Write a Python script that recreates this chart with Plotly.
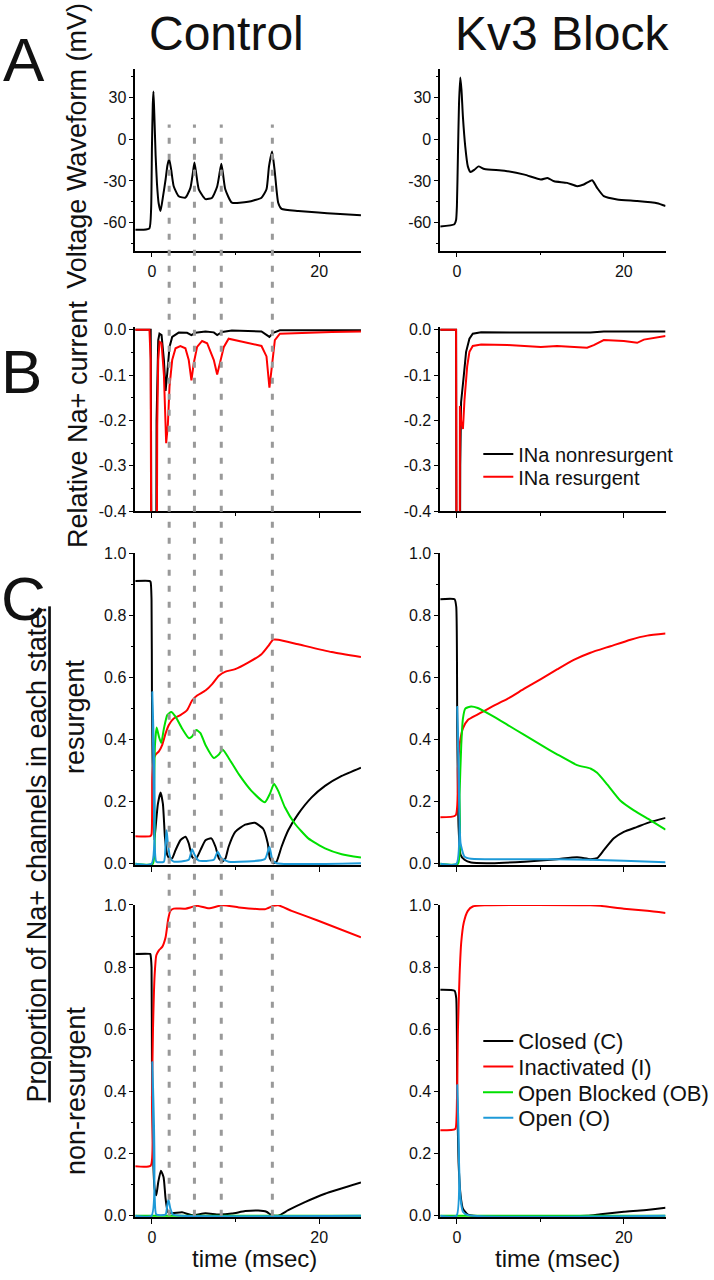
import plotly.graph_objects as go

# ---------------- DATA ----------------
# Panel A: voltage waveform (mV) vs time (msec)
ctl_v_t = [-2, -1.0, -0.3, -0.1, 0.0, 0.1, 0.18, 0.28, 0.44, 0.6, 0.8, 1.03, 1.3, 1.63, 1.85, 2.06, 2.3, 2.6, 3.2,
           4.0, 4.6, 4.9, 5.08, 5.3, 5.6, 6.4, 7.2, 7.8, 8.1, 8.3, 8.5, 8.77, 9.56, 11.5, 13.1, 13.7, 14.0, 14.37,
           14.7, 15.1, 15.5, 17.5, 19.9, 22, 25]
ctl_v = [-65, -65, -64, -50, -5, 25, 34, 18, -12, -32, -46, -51.5, -42, -29, -19, -14.4, -22, -33.8, -41,
         -42, -35, -24, -16.8, -25, -36, -43, -42, -34, -24, -17.7, -25, -36, -45.6, -45, -42, -36, -19.6, -9,
         -24, -45.6, -50, -51.5, -52.7, -53.5, -54.6]

kv3_v_t = [-2, -0.3, -0.1, 0, 0.12, 0.25, 0.4, 0.55, 0.72, 1.0, 1.31, 1.63, 2.1, 2.58, 3.3, 5.7, 8.1, 10.06, 10.85,
           11.65, 13.2, 14.4, 15.2, 16.2, 16.8, 17.6, 19.2, 21.6, 24, 25]
kv3_v = [-62.6, -61, -58, -48, -12.5, 25, 44, 35, 15.8, -5.4, -19.6, -23.6, -22, -19.6, -21.5, -22.7, -25.5, -29,
         -27.9, -30.3, -31.4, -33.8, -32.6, -29.5, -35, -40.9, -43.3, -44.4, -46, -48]

# Panel B: relative Na+ current
ctl_nonres_t = [-2, -0.15, -0.06, 0.0, 0.45, 0.55, 0.75, 0.9, 1.15, 1.43, 1.63, 1.83, 2.1, 2.42, 3.2, 4.2, 4.72,
                5.2, 6.4, 7.4, 7.8, 8.4, 9.56, 13.1, 14.05, 14.5, 15.3, 25]
ctl_nonres = [0, 0, -0.5, -1.0, -1.0, -0.2, -0.023, -0.009, -0.012, -0.067, -0.135, -0.096, -0.038, -0.016, -0.0065,
              -0.007, -0.012, -0.007, -0.004, -0.006, -0.012, -0.005, -0.002, -0.004, -0.016, -0.007, -0.0015, -0.0015]
ctl_res_t = [-2, -0.3, -0.16, -0.08, 0.0, 0.5, 0.56, 0.63, 0.75, 0.91, 1.15, 1.43, 1.7, 1.9, 2.1, 2.42, 2.82, 3.4,
             4.0, 4.4, 4.72, 5.0, 5.4, 6.0, 6.6, 7.4, 7.8, 8.2, 8.6, 9.17, 9.96, 11.5, 13.1, 13.7, 14.05, 14.3,
             14.7, 15.3, 17.5, 21.5, 25]
ctl_res = [0, 0, -0.067, -0.5, -1.0, -1.0, -0.5, -0.21, -0.067, -0.027, -0.03, -0.10, -0.25, -0.21, -0.125, -0.067,
           -0.041, -0.036, -0.041, -0.067, -0.112, -0.074, -0.038, -0.025, -0.03, -0.067, -0.099, -0.067, -0.038,
           -0.02, -0.023, -0.03, -0.036, -0.059, -0.128, -0.088, -0.023, -0.009, -0.007, -0.005, -0.004]

kv3_nonres_t = [-2, -0.1, 0.0, 0.3, 0.4, 0.5, 0.83, 1.1, 1.5, 1.9, 2.9, 16, 17.6, 25]
kv3_nonres = [0, 0, -1.0, -1.0, -0.3, -0.16, -0.10, -0.049, -0.02, -0.009, -0.006, -0.0065, -0.004, -0.004]
kv3_res_t = [-2, -0.1, 0.0, 0.3, 0.36, 0.52, 0.72, 0.91, 1.23, 1.5, 1.9, 2.9, 6.1, 10.06, 12, 15.6, 16.4, 17.6, 20,
             21.6, 22.4, 25]
kv3_res = [0, 0, -1.0, -1.0, -0.168, -0.204, -0.219, -0.154, -0.081, -0.049, -0.036, -0.033, -0.034, -0.038,
           -0.036, -0.04, -0.034, -0.023, -0.025, -0.029, -0.022, -0.014]

# Panel C (resurgent channels), Control
ctl_r_C_t = [-2, -0.3, -0.16, -0.05, 0, 0.12, 0.28, 0.44, 0.71, 1.03, 1.31, 1.55, 1.83, 2.1, 2.42, 2.82, 3.4, 4.0,
             4.4, 4.8, 5.2, 5.8, 6.4, 7.1, 7.6, 8.0, 8.4, 8.8, 9.17, 9.96, 11.15, 12.3, 13.3, 13.85, 14.1, 14.5,
             14.9, 15.5, 16.3, 17.5, 19.1, 20.7, 22.7, 25]
ctl_r_C = [0.911, 0.911, 0.908, 0.85, 0.54, 0.22, 0.076, 0.119, 0.193, 0.23, 0.193, 0.087, 0.029, 0.018, 0.018,
           0.044, 0.076, 0.087, 0.066, 0.023, 0.013, 0.044, 0.076, 0.082, 0.055, 0.018, 0.007, 0.018, 0.055, 0.103,
           0.126, 0.132, 0.113, 0.066, 0.018, 0.002, 0.007, 0.055, 0.108, 0.161, 0.214, 0.251, 0.283, 0.31]
ctl_r_I_t = [-2, -0.2, -0.05, 0.04, 0.24, 0.44, 0.83, 1.23, 1.63, 2.02, 2.6, 3.4, 4.2, 4.8, 5.4, 6.4, 7.2, 8.0, 8.8,
             9.96, 11.5, 13.1, 13.9, 14.5, 15.1, 17.5, 21.5, 25]
ctl_r_I = [0.089, 0.089, 0.095, 0.278, 0.341, 0.352, 0.362, 0.383, 0.42, 0.447, 0.468, 0.479, 0.495, 0.526, 0.542,
           0.558, 0.579, 0.606, 0.619, 0.627, 0.648, 0.675, 0.701, 0.722, 0.722, 0.707, 0.682, 0.666]
ctl_r_OB_t = [-2, 0.1, 0.24, 0.36, 0.56, 0.83, 1.11, 1.43, 1.83, 2.3, 2.82, 3.6, 4.4, 4.8, 5.3, 5.8, 6.4, 7.4, 8.0,
              8.45, 9.17, 10.4, 11.9, 13.5, 14.1, 14.6, 15.1, 15.9, 17.1, 18.7, 20.7, 22.7, 25]
ctl_r_OB = [0, 0, 0.225, 0.383, 0.439, 0.41, 0.389, 0.436, 0.479, 0.489, 0.474, 0.436, 0.405, 0.41, 0.431, 0.421,
            0.383, 0.341, 0.352, 0.368, 0.341, 0.288, 0.235, 0.198, 0.225, 0.258, 0.235, 0.182, 0.129, 0.082, 0.05,
            0.031, 0.02]
ctl_r_O_t = [-2, -0.05, 0.04, 0.16, 0.32, 0.52, 1.43, 1.63, 1.75, 1.9, 2.2, 2.6, 4.4, 4.8, 5.1, 5.6, 7.4, 7.86,
             8.3, 9.17, 13.5, 14.05, 14.4, 14.9, 25]
ctl_r_O = [0, 0, 0.553, 0.33, 0.066, 0.007, 0.007, 0.066, 0.108, 0.066, 0.018, 0.007, 0.013, 0.047, 0.029, 0.01,
           0.013, 0.039, 0.018, 0.007, 0.015, 0.055, 0.013, 0.002, 0.002]

# Panel C (resurgent channels), Kv3 block
kv3_r_C_t = [-2, -0.28, -0.08, 0.04, 0.2, 0.44, 0.91, 1.7, 4.1, 8.1, 12, 14.4, 16.0, 16.8, 17.6, 18.8, 20, 21.6,
             23.2, 25]
kv3_r_C = [0.852, 0.852, 0.828, 0.436, 0.119, 0.029, 0.013, 0.004, 0.002, 0.007, 0.015, 0.021, 0.015, 0.018, 0.044,
           0.082, 0.103, 0.119, 0.135, 0.148]
kv3_r_I_t = [-2, -0.16, 0.12, 0.32, 0.72, 1.31, 2.5, 4.1, 6.1, 8.07, 10.06, 12.05, 14.0, 16.0, 18.4, 20.8, 22.8, 25]
kv3_r_I = [0.15, 0.156, 0.309, 0.383, 0.436, 0.463, 0.481, 0.505, 0.532, 0.564, 0.595, 0.627, 0.657, 0.68, 0.701,
           0.722, 0.735, 0.742]
kv3_r_OB_t = [-2, 0.12, 0.32, 0.52, 0.72, 1.0, 1.7, 2.5, 4.1, 6.1, 8.07, 10.06, 12.05, 14.4, 16.0, 16.8, 18.0,
              19.6, 21.2, 23.2, 25]
kv3_r_OB = [0, 0, 0.225, 0.383, 0.468, 0.5, 0.507, 0.502, 0.479, 0.447, 0.415, 0.383, 0.352, 0.318, 0.307, 0.293,
            0.256, 0.203, 0.172, 0.14, 0.11]
kv3_r_O_t = [-2, -0.05, 0.04, 0.24, 0.44, 0.91, 1.7, 12, 16, 20, 25]
kv3_r_O = [0, 0, 0.505, 0.225, 0.066, 0.023, 0.016, 0.015, 0.013, 0.01, 0.005]

# Panel C (non-resurgent channels), Control
ctl_n_C_t = [-2, -0.2, -0.16, -0.05, 0, 0.16, 0.32, 0.52, 0.75, 1.07, 1.39, 1.63, 1.9, 2.42, 3.6, 4.8, 6.4, 8.0,
             9.56, 11.15, 12.7, 13.7, 14.3, 15.1, 16.3, 18.3, 20.7, 25]
ctl_n_C = [0.842, 0.842, 0.838, 0.8, 0.489, 0.171, 0.087, 0.066, 0.108, 0.145, 0.124, 0.055, 0.013, 0.008, 0.011,
           0.002, 0.008, 0.004, 0.007, 0.015, 0.017, 0.013, 0.002, 0.0, 0.018, 0.044, 0.071, 0.107]
ctl_n_I_t = [-2, -0.16, 0, 0.12, 0.32, 0.52, 0.83, 1.23, 1.63, 1.94, 2.2, 2.6, 4.0, 5.4, 6.8, 8.45, 10.4, 13.5,
             14.5, 15.1, 16.7, 19.9, 25]
ctl_n_I = [0.159, 0.161, 0.383, 0.595, 0.775, 0.838, 0.854, 0.865, 0.896, 0.954, 0.981, 0.988, 0.988, 0.997, 0.989,
           0.999, 0.992, 0.986, 0.997, 0.999, 0.981, 0.949, 0.896]
ctl_n_OB_t = [-2, 25]
ctl_n_OB = [0, 0]
ctl_n_O_t = [-2, -0.05, 0.04, 0.16, 0.32, 0.52, 1.63, 1.83, 1.98, 2.2, 2.5, 3.5, 25]
ctl_n_O = [0, 0, 0.494, 0.277, 0.066, 0.004, 0.004, 0.034, 0.052, 0.023, 0.004, 0, 0]

# Panel C (non-resurgent channels), Kv3 block
kv3_n_C_t = [-2, -0.28, -0.08, 0.04, 0.2, 0.44, 0.72, 1.31, 2.0, 15.6, 17.2, 20, 22.4, 25]
kv3_n_C = [0.727, 0.724, 0.70, 0.383, 0.171, 0.066, 0.023, 0.004, 0, 0, 0.005, 0.013, 0.018, 0.026]
kv3_n_I_t = [-2, -0.2, -0.04, 0.12, 0.32, 0.52, 0.83, 1.31, 1.9, 3.3, 16, 17.2, 20, 22.8, 25]
kv3_n_I = [0.275, 0.279, 0.32, 0.595, 0.775, 0.88, 0.944, 0.981, 0.995, 0.999, 0.999, 0.997, 0.988, 0.981, 0.974]
kv3_n_OB_t = [-2, 25]
kv3_n_OB = [0, 0]
kv3_n_O_t = [-2, -0.05, 0.04, 0.2, 0.4, 0.72, 1.31, 25]
kv3_n_O = [0, 0, 0.42, 0.224, 0.066, 0.013, 0.002, 0]

# Times of the action-potential peaks marked by dashed lines (msec)
spike_times = [2.06, 5.08, 8.29, 14.4]

# Tick labels
x_tickvals = [0, 20]
x_ticktext = ["0", "20"]
v_tickvals = [-60, -30, 0, 30]
v_ticktext = ["-60", "-30", "0", "30"]
i_tickvals = [-0.4, -0.3, -0.2, -0.1, 0.0]
i_ticktext = ["-0.4", "-0.3", "-0.2", "-0.1", "0.0"]
p_tickvals = [0.0, 0.2, 0.4, 0.6, 0.8, 1.0]
p_ticktext = ["0.0", "0.2", "0.4", "0.6", "0.8", "1.0"]

state_names = ["Closed (C)", "Inactivated (I)", "Open Blocked (OB)", "Open (O)"]
current_names = ["INa nonresurgent", "INa resurgent"]

# ---------------- STYLE / LAYOUT ----------------
W, H = 714, 1280
FONT = "Liberation Sans, Arial, Helvetica, sans-serif"
BLACK, RED, GREEN, BLUE = "#000000", "#ff0000", "#00e000", "#1e9ad8"
LW = 2


def px(xp):
    return xp / W


def py(yp):
    return 1 - yp / H


cols = {"L": (136, 363), "R": (442.7, 669.3)}
rows = {
    "A": (62, 246, [-80, 50], v_tickvals, v_ticktext, 15),
    "B": (323.2, 510, [-0.4, 0.006], i_tickvals, i_ticktext, 0.05),
    "Cr": (552.7, 868.6, [-0.004, 1.0], p_tickvals, p_ticktext, 0.1),
    "Cn": (909, 1225.3, [-0.004, 1.0], p_tickvals, p_ticktext, 0.1),
}

fig = go.Figure()
layout_axes = {}
idx = 0
axis_of = {}
for rkey in ["A", "B", "Cr", "Cn"]:
    for ckey in ["L", "R"]:
        idx += 1
        sfx = "" if idx == 1 else str(idx)
        axis_of[(rkey, ckey)] = ("x" + sfx, "y" + sfx)
        top, bot, yr, tv, tt, ymin = rows[rkey]
        x0, x1 = cols[ckey]
        show_xlab = rkey in ("A", "Cn")
        layout_axes["xaxis" + sfx] = dict(
            domain=[px(x0), px(x1)], range=[-2, 25], anchor="y" + sfx,
            showline=True, linecolor="black", linewidth=1.5, showgrid=False, zeroline=False,
            ticks="outside", ticklen=5, tickwidth=1.3, tickcolor="black",
            tickvals=x_tickvals, ticktext=x_ticktext, showticklabels=show_xlab,
            minor=dict(ticks="outside", ticklen=3, tickwidth=1.2, tickcolor="black", dtick=10, tick0=0),
            tickfont=dict(family=FONT, size=16, color="#111"), layer="below traces", fixedrange=True,
        )
        layout_axes["yaxis" + sfx] = dict(
            domain=[py(bot), py(top)], range=yr, anchor="x" + sfx,
            showline=True, linecolor="black", linewidth=1.5, showgrid=False, zeroline=False,
            ticks="outside", ticklen=4, tickwidth=1.3, tickcolor="black",
            tickvals=tv, ticktext=tt,
            minor=dict(ticks="outside", ticklen=2, tickwidth=1.2, tickcolor="black", dtick=ymin, tick0=0),
            tickfont=dict(family=FONT, size=16, color="#111"), layer="below traces", fixedrange=True,
        )


def add(t, y, color, key, name=None, legend=None):
    xa, ya = axis_of[key]
    smooth = key[0] != "B"
    line = dict(color=color, width=LW)
    if smooth:
        line.update(shape="spline", smoothing=0.5)
    fig.add_trace(go.Scatter(
        x=t, y=y, mode="lines", line=line,
        xaxis=xa, yaxis=ya, name=name or "", showlegend=legend is not None,
        legend=legend or "legend", hoverinfo="skip",
    ))


# A
add(ctl_v_t, ctl_v, BLACK, ("A", "L"))
add(kv3_v_t, kv3_v, BLACK, ("A", "R"))
# B
add(ctl_nonres_t, ctl_nonres, BLACK, ("B", "L"))
add(ctl_res_t, ctl_res, RED, ("B", "L"))
add(kv3_nonres_t, kv3_nonres, BLACK, ("B", "R"), current_names[0], "legend5")
add(kv3_res_t, kv3_res, RED, ("B", "R"), current_names[1], "legend6")
# C resurgent
add(ctl_r_C_t, ctl_r_C, BLACK, ("Cr", "L"))
add(ctl_r_I_t, ctl_r_I, RED, ("Cr", "L"))
add(ctl_r_OB_t, ctl_r_OB, GREEN, ("Cr", "L"))
add(ctl_r_O_t, ctl_r_O, BLUE, ("Cr", "L"))
add(kv3_r_C_t, kv3_r_C, BLACK, ("Cr", "R"))
add(kv3_r_I_t, kv3_r_I, RED, ("Cr", "R"))
add(kv3_r_OB_t, kv3_r_OB, GREEN, ("Cr", "R"))
add(kv3_r_O_t, kv3_r_O, BLUE, ("Cr", "R"))
# C non-resurgent
add(ctl_n_C_t, ctl_n_C, BLACK, ("Cn", "L"))
add(ctl_n_I_t, ctl_n_I, RED, ("Cn", "L"))
add(ctl_n_OB_t, ctl_n_OB, GREEN, ("Cn", "L"))
add(ctl_n_O_t, ctl_n_O, BLUE, ("Cn", "L"))
add(kv3_n_C_t, kv3_n_C, BLACK, ("Cn", "R"), state_names[0], "legend")
add(kv3_n_I_t, kv3_n_I, RED, ("Cn", "R"), state_names[1], "legend2")
add(kv3_n_OB_t, kv3_n_OB, GREEN, ("Cn", "R"), state_names[2], "legend3")
add(kv3_n_O_t, kv3_n_O, BLUE, ("Cn", "R"), state_names[3], "legend4")


# legends (one per entry, for tight row spacing)
def leg(ycenter, size=22):
    return dict(x=px(481), y=py(ycenter), xanchor="left", yanchor="middle",
                bgcolor="rgba(0,0,0,0)", borderwidth=0,
                font=dict(family=FONT, size=size, color="#111"), itemwidth=30)


legends = {
    "legend": leg(1047), "legend2": leg(1073), "legend3": leg(1099), "legend4": leg(1125),
    "legend5": leg(452, 20), "legend6": leg(475, 20),
}

# dashed spike-time markers spanning all left panels
shapes = [dict(type="line", xref="x", yref="paper", x0=t, x1=t, y0=py(1224), y1=py(118),
               line=dict(color="#999999", width=3, dash="6px,10px"), layer="above")
          for t in spike_times]

annotations = [
    dict(text="Control", x=px(228), y=py(26), font=dict(size=48)),
    dict(text="Kv3 Block", x=px(565), y=py(26), font=dict(size=48)),
    dict(text="A", x=px(24), y=py(52), font=dict(size=62)),
    dict(text="B", x=px(22), y=py(368), font=dict(size=62)),
    dict(text="C", x=px(24), y=py(598), font=dict(size=62)),
    dict(text="Voltage Waveform (mV)", x=px(78), y=py(140), textangle=-90, font=dict(size=27)),
    dict(text="Relative Na+ current", x=px(79), y=py(422), textangle=-90, font=dict(size=27)),
    dict(text="Proportion of Na+ channels in each state:", x=px(37), y=py(858), textangle=-90,
         font=dict(size=27, lineposition="under")),
    dict(text="resurgent", x=px(76), y=py(718), textangle=-90, font=dict(size=27)),
    dict(text="non-resurgent", x=px(77), y=py(1097), textangle=-90, font=dict(size=27)),
    dict(text="time (msec)", x=px(256), y=py(1267), font=dict(size=24)),
    dict(text="time (msec)", x=px(561), y=py(1267), font=dict(size=24)),
]
for a in annotations:
    a.update(xref="paper", yref="paper", showarrow=False, xanchor="center", yanchor="middle")
    a["font"] = dict(family=FONT, color="#111", **a["font"])

fig.update_layout(
    width=W, height=H, autosize=False,
    margin=dict(l=0, r=0, t=0, b=0),
    paper_bgcolor="white", plot_bgcolor="white",
    shapes=shapes, annotations=annotations,
    hovermode=False,
    **layout_axes, **legends,
)

fig.write_html("out.html", config={"displayModeBar": False},
               post_script="document.body.style.margin='0';document.body.style.overflow='hidden';")
